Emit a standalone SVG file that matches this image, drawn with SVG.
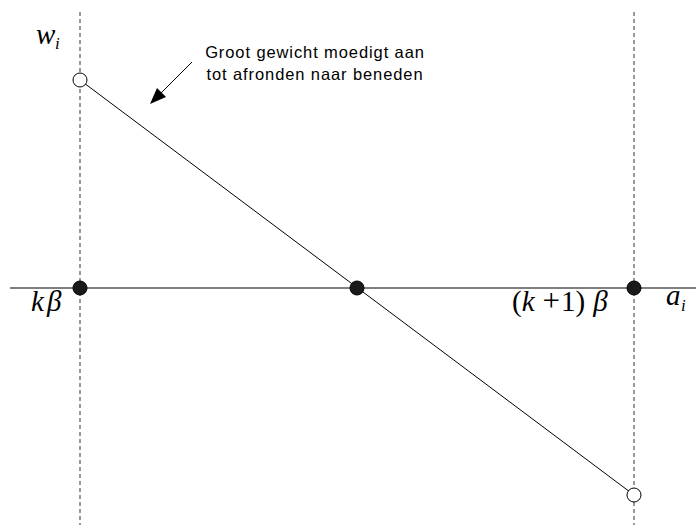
<svg xmlns="http://www.w3.org/2000/svg" width="696" height="525" viewBox="0 0 696 525">
<style>
.dash{stroke:#333;stroke-width:1;stroke-dasharray:4,3;fill:none}
.ln{stroke:#000;stroke-width:1;fill:none}
.open{fill:#fff;stroke:#000;stroke-width:1}
.dot{fill:#1a1a1a;stroke:#000;stroke-width:1}
.math{font-family:"Liberation Serif",serif;font-style:italic;font-size:29px;fill:#000}
.up{font-style:normal}
.sub{font-family:"Liberation Serif",serif;font-style:italic;font-size:17px;fill:#000}
.lbl{font-family:"Liberation Sans",Arial,sans-serif;font-size:16.5px;letter-spacing:0.9px;fill:#000}
</style>
<g id="connectors">
<line class="dash" x1="80" y1="12" x2="80" y2="525"/>
<line class="dash" x1="634" y1="12" x2="634" y2="525"/>
<line class="ln" x1="10" y1="288" x2="696" y2="288" stroke="#444"/>
<line class="ln" x1="80" y1="80" x2="634" y2="495"/>
<path d="M192,62 L155,99" stroke="#000" stroke-width="1" fill="none"/>
<path d="M150,104 L157,88 L166,97 z" fill="#000"/>
</g>
<g id="node-top"><circle class="open" cx="80" cy="80" r="7"/></g>
<g id="node-bottom"><circle class="open" cx="634" cy="495" r="7"/></g>
<g id="node-left"><circle class="dot" cx="80" cy="288" r="7"/></g>
<g id="node-mid"><circle class="dot" cx="357" cy="288" r="7"/></g>
<g id="node-right"><circle class="dot" cx="634" cy="288" r="7"/></g>
<g id="labels">
<text class="math" x="36" y="44">w</text><text class="sub" x="55" y="49">i</text>
<text class="math" x="31" y="311">k<tspan dx="3">β</tspan></text>
<text class="math" x="512" y="311"><tspan class="up">(</tspan>k<tspan class="up" dx="8" font-size="31">+</tspan><tspan class="up" dx="1">1)</tspan><tspan dx="8">β</tspan></text>
<text class="math" x="666" y="305">a</text><text class="sub" x="681" y="311">i</text>
<text class="lbl" x="315" y="58" text-anchor="middle">Groot gewicht moedigt aan</text>
<text class="lbl" x="315" y="80" text-anchor="middle">tot afronden naar beneden</text>
</g>
</svg>
